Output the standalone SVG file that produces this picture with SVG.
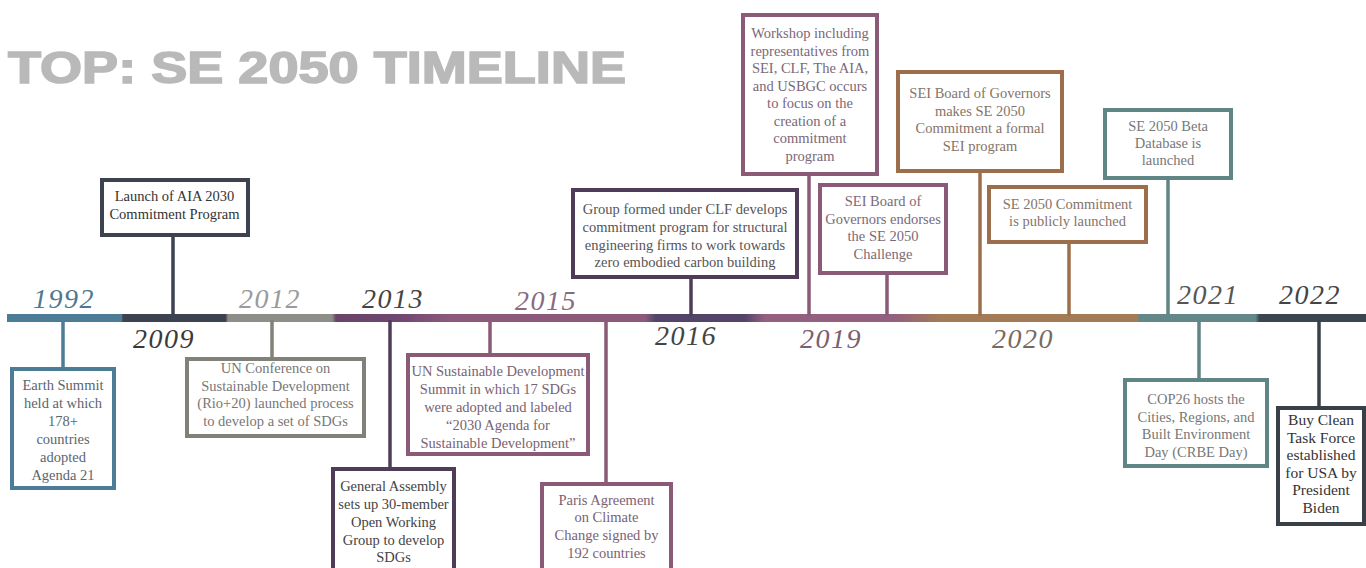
<svg xmlns="http://www.w3.org/2000/svg" width="1366" height="568" viewBox="0 0 1366 568">
<defs>
<linearGradient id="bar" gradientUnits="userSpaceOnUse" x1="0" y1="0" x2="1366" y2="0">
<stop offset="0.005" stop-color="#4d7d96"/>
<stop offset="0.089" stop-color="#4d7d96"/>
<stop offset="0.090" stop-color="#3d4250"/>
<stop offset="0.165" stop-color="#3d4250"/>
<stop offset="0.167" stop-color="#8e8e88"/>
<stop offset="0.243" stop-color="#8e8e88"/>
<stop offset="0.246" stop-color="#6a4468"/>
<stop offset="0.29" stop-color="#6e4670"/>
<stop offset="0.33" stop-color="#8d5a7c"/>
<stop offset="0.472" stop-color="#8d5a7c"/>
<stop offset="0.480" stop-color="#53446a"/>
<stop offset="0.545" stop-color="#53446a"/>
<stop offset="0.56" stop-color="#93607f"/>
<stop offset="0.655" stop-color="#93607f"/>
<stop offset="0.69" stop-color="#a57b57"/>
<stop offset="0.832" stop-color="#a57b57"/>
<stop offset="0.834" stop-color="#638888"/>
<stop offset="0.919" stop-color="#638888"/>
<stop offset="0.922" stop-color="#3c4650"/>
<stop offset="1" stop-color="#3c4650"/>
</linearGradient>
</defs>
<style>
.title{font-family:"Liberation Sans",Arial,sans-serif;font-weight:bold;font-size:44px;fill:#b9b9b9;stroke:#b9b9b9;stroke-width:1.6px}
.yr{font-family:"Liberation Serif","Times New Roman",serif;font-style:italic;font-size:28px;letter-spacing:1.5px}
.box{fill:#ffffff;stroke-width:4}
.t{font-family:"Liberation Serif","Times New Roman",serif;font-size:14.5px;text-anchor:middle}
.c{stroke-width:3.5;fill:none}
.blue{stroke:#4d7d96}.dark{stroke:#3d4250}.gray{stroke:#818179}.purp{stroke:#4f3c58}.mauve{stroke:#8a5a76}.brown{stroke:#9c6e4c}.teal{stroke:#5f8584}.dk2{stroke:#3a4048}
</style>
<rect x="0" y="0" width="1366" height="568" fill="#ffffff"/>
<text class="title" x="8" y="83" textLength="618" lengthAdjust="spacingAndGlyphs">TOP: SE 2050 TIMELINE</text>

<g id="timeline">
<rect x="7" y="314" width="1359" height="8" fill="url(#bar)"/>
<text class="yr" x="33" y="308" fill="#4d7890">1992</text>
<text class="yr" x="133" y="348" fill="#3a3a3a">2009</text>
<text class="yr" x="239" y="308" fill="#9a9a9a">2012</text>
<text class="yr" x="362" y="308" fill="#444444">2013</text>
<text class="yr" x="515" y="310" fill="#8a6a80">2015</text>
<text class="yr" x="655" y="345" fill="#444444">2016</text>
<text class="yr" x="800" y="348" fill="#7a6070">2019</text>
<text class="yr" x="992" y="348" fill="#7a6a5e">2020</text>
<text class="yr" x="1177" y="304" fill="#555555">2021</text>
<text class="yr" x="1279" y="304" fill="#444444">2022</text>
</g>

<g id="connectors">
<line class="c dark" x1="173" y1="236" x2="173" y2="316"/>
<line class="c blue" x1="63" y1="320" x2="63" y2="367"/>
<line class="c gray" x1="272" y1="320" x2="272" y2="358"/>
<line class="c purp" x1="390" y1="320" x2="390" y2="468"/>
<line class="c mauve" x1="490" y1="320" x2="490" y2="354"/>
<line class="c mauve" x1="606" y1="320" x2="606" y2="483"/>
<line class="c purp" x1="691" y1="279" x2="691" y2="316"/>
<line class="c mauve" x1="809" y1="176" x2="809" y2="316"/>
<line class="c mauve" x1="887" y1="275" x2="887" y2="316"/>
<line class="c brown" x1="980" y1="173" x2="980" y2="316"/>
<line class="c brown" x1="1069" y1="244" x2="1069" y2="316"/>
<line class="c teal" x1="1168" y1="180" x2="1168" y2="316"/>
<line class="c teal" x1="1199" y1="320" x2="1199" y2="379"/>
<line class="c dk2" x1="1319" y1="320" x2="1319" y2="407"/>
</g>

<g id="n2009">
<rect class="box dark" x="102" y="180" width="146" height="55"/>
<text class="t" fill="#333333"><tspan x="174.5" y="201">Launch of AIA 2030</tspan><tspan x="174.5" y="219">Commitment  Program</tspan></text>
</g>

<g id="n1992">
<rect class="box blue" x="12" y="369" width="102" height="119"/>
<text class="t" fill="#5a666c"><tspan x="63" y="390">Earth Summit</tspan><tspan x="63" y="408">held at which</tspan><tspan x="63" y="426">178+</tspan><tspan x="63" y="444">countries</tspan><tspan x="63" y="462">adopted</tspan><tspan x="63" y="480">Agenda 21</tspan></text>
</g>

<g id="n2012">
<rect class="box gray" x="187" y="359" width="177" height="77"/>
<text class="t" fill="#777777"><tspan x="275.5" y="373">UN Conference on</tspan><tspan x="275.5" y="391">Sustainable Development</tspan><tspan x="275.5" y="408">(Rio+20)  launched process</tspan><tspan x="275.5" y="426">to develop a set of SDGs</tspan></text>
</g>

<g id="n2013">
<rect class="box purp" x="333" y="469" width="121" height="104"/>
<text class="t" fill="#444444"><tspan x="393.5" y="491">General  Assembly</tspan><tspan x="393.5" y="509">sets up 30-member</tspan><tspan x="393.5" y="527">Open Working</tspan><tspan x="393.5" y="545">Group to develop</tspan><tspan x="393.5" y="562">SDGs</tspan></text>
</g>

<g id="n2015a">
<rect class="box mauve" x="408" y="355" width="180" height="99"/>
<text class="t" fill="#7a6272"><tspan x="498" y="376">UN Sustainable Development</tspan><tspan x="498" y="394">Summit  in which 17 SDGs</tspan><tspan x="498" y="412">were adopted and labeled</tspan><tspan x="498" y="430">“2030  Agenda for</tspan><tspan x="498" y="448">Sustainable Development”</tspan></text>
</g>

<g id="n2015b">
<rect class="box mauve" x="542" y="484" width="129" height="89"/>
<text class="t" fill="#7a6272"><tspan x="606.5" y="505">Paris Agreement</tspan><tspan x="606.5" y="522">on Climate</tspan><tspan x="606.5" y="540">Change signed by</tspan><tspan x="606.5" y="558">192 countries</tspan></text>
</g>

<g id="n2016">
<rect class="box purp" x="573" y="190" width="224" height="87"/>
<text class="t" fill="#555555"><tspan x="685" y="214">Group formed under CLF  develops</tspan><tspan x="685" y="232">commitment  program for structural</tspan><tspan x="685" y="250">engineering firms  to work towards</tspan><tspan x="685" y="267">zero embodied carbon building</tspan></text>
</g>

<g id="n2019a">
<rect class="box mauve" x="743" y="15" width="134" height="159"/>
<text class="t" fill="#7a6878"><tspan x="810" y="38">Workshop including</tspan><tspan x="810" y="55.5">representatives from</tspan><tspan x="810" y="73">SEI,  CLF,  The AIA,</tspan><tspan x="810" y="90.5">and USBGC  occurs</tspan><tspan x="810" y="108">to focus on the</tspan><tspan x="810" y="125.5">creation of a</tspan><tspan x="810" y="143">commitment</tspan><tspan x="810" y="160.5">program</tspan></text>
</g>

<g id="n2019b">
<rect class="box mauve" x="820" y="185" width="126" height="88"/>
<text class="t" fill="#7a6a78"><tspan x="883" y="206">SEI Board of</tspan><tspan x="883" y="223.5">Governors endorses</tspan><tspan x="883" y="241">the SE 2050</tspan><tspan x="883" y="258.5">Challenge</tspan></text>
</g>

<g id="n2020a">
<rect class="box brown" x="898" y="72" width="164" height="99"/>
<text class="t" fill="#857468"><tspan x="980" y="98">SEI Board of Governors</tspan><tspan x="980" y="115.5">makes  SE  2050</tspan><tspan x="980" y="133">Commitment  a formal</tspan><tspan x="980" y="150.5">SEI  program</tspan></text>
</g>

<g id="n2020b">
<rect class="box brown" x="989" y="187" width="157" height="55"/>
<text class="t" fill="#857468"><tspan x="1067.5" y="209">SE 2050  Commitment</tspan><tspan x="1067.5" y="226">is publicly launched</tspan></text>
</g>

<g id="n2021a">
<rect class="box teal" x="1105" y="110" width="126" height="68"/>
<text class="t" fill="#777777"><tspan x="1168" y="131">SE 2050 Beta</tspan><tspan x="1168" y="148">Database is</tspan><tspan x="1168" y="165">launched</tspan></text>
</g>

<g id="n2021b">
<rect class="box teal" x="1125" y="380" width="142" height="86"/>
<text class="t" fill="#777777"><tspan x="1196" y="404">COP26  hosts the</tspan><tspan x="1196" y="421.5">Cities, Regions, and</tspan><tspan x="1196" y="439">Built  Environment</tspan><tspan x="1196" y="456.5">Day (CRBE  Day)</tspan></text>
</g>

<g id="n2022">
<rect class="box dk2" x="1278" y="408" width="86" height="116"/>
<text class="t" fill="#333333" style="font-size:15.5px"><tspan x="1321" y="425">Buy Clean</tspan><tspan x="1321" y="442.6">Task Force</tspan><tspan x="1321" y="460.2">established</tspan><tspan x="1321" y="477.8">for USA by</tspan><tspan x="1321" y="495.4">President</tspan><tspan x="1321" y="513">Biden</tspan></text>
</g>
</svg>
